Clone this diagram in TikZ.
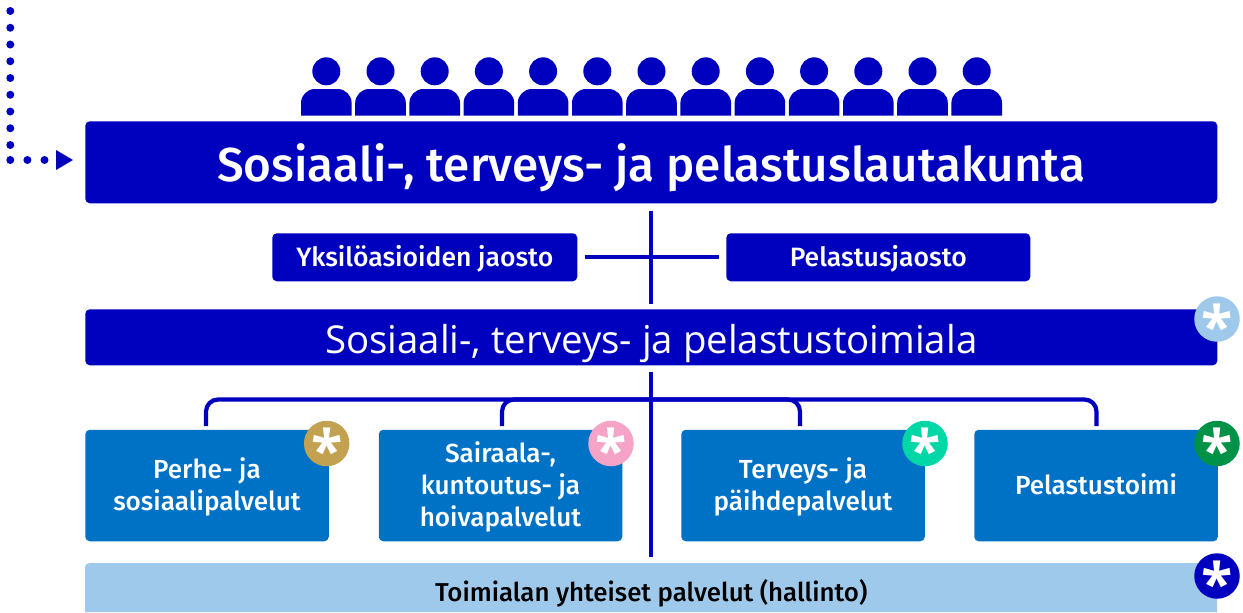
\documentclass[tikz,border=0pt]{standalone}
\usepackage{fontspec}
\usetikzlibrary{calc}
\setmainfont{Open Sans}
\newfontfamily\medfont{Fira Sans Medium}
\newfontfamily\astfont{Open Sans}
\definecolor{navy}{HTML}{0000BF}
\definecolor{coat}{HTML}{0072C6}
\definecolor{fog}{HTML}{9FC9EB}
\definecolor{gold}{HTML}{C2A251}
\definecolor{pinkk}{HTML}{F5A3C7}
\definecolor{copper}{HTML}{00D7A7}
\definecolor{tram}{HTML}{009246}
\newlength{\px}\setlength{\px}{0.75pt}
\tikzset{
 x=0.75pt,y=-0.75pt,
 barbox/.style={fill=navy,text=white,rounded corners=4.5\px,inner sep=0pt,align=center,anchor=north west},
 svcbox/.style={fill=coat,text=white,rounded corners=4.5\px,inner sep=0pt,align=center,anchor=north west,minimum width=243.5\px,minimum height=111.5\px,font=\medfont\fontsize{19.6}{24}\selectfont},
 badge/.style={circle,minimum size=45.5\px,inner sep=0pt,text=white,font=\astfont\bfseries\fontsize{43}{43}\selectfont},
 conn/.style={draw=navy,line width=4.2\px},
 dotline/.style={navy,line width=8\px,line cap=round},
}
\newcommand{\astk}{\raisebox{-28\px}[0pt][0pt]{*}}
\newcommand{\down}[2]{\raisebox{-#1\px}[0pt][0pt]{#2}}
\newcommand{\lines}[1]{\raisebox{-9.5\px}[0pt][0pt]{\begin{tabular}{@{}c@{}}#1\end{tabular}}}
\begin{document}
\begin{tikzpicture}
\useasboundingbox (0,0) rectangle (1243,612);
% dotted feedback line
\coordinate (dotA) at (10.3,11);
\coordinate (dotB) at (10.3,145.5);
\coordinate (dotC) at (10.3,160);
\coordinate (dotD) at (44.8,160);
\draw[dotline,dash pattern=on 0pt off 16.75\px] (dotA) -- (dotB);
\draw[dotline,dash pattern=on 0pt off 17.1\px] (dotC) -- (dotD);
\fill[navy] (56,150) -- (73,160) -- (56,170) -- cycle;
% people
\foreach \i in {0,...,12}{
 \pgfmathsetmacro{\cx}{326.3+54.2*\i}
 \fill[navy] (\cx,71.3) circle[radius=14];
 \fill[navy] (\cx-25.3,115.7) [rounded corners=14\px] -- (\cx-25.3,89) -- (\cx+25.3,89) [sharp corners] -- (\cx+25.3,115.7) -- cycle;
}
% bars
\node[barbox,minimum width=1132\px,minimum height=82\px,font=\medfont\fontsize{35.7}{40}\selectfont] (lauta) at (85,121) {\down{19.5}{Sosiaali-, terveys- ja pelastuslautakunta}};
\node[barbox,minimum width=305\px,minimum height=48\px,font=\medfont\fontsize{19.9}{22}\selectfont] (yks) at (272,233) {\down{9.5}{Yksilöasioiden jaosto}};
\node[barbox,minimum width=304\px,minimum height=48\px,font=\medfont\fontsize{19.9}{22}\selectfont] (pel) at (726,233) {\down{9.5}{Pelastusjaosto}};
\node[barbox,minimum width=1132\px,minimum height=56\px,font=\fontsize{28.8}{32}\selectfont] (toimi) at (85,309) {\down{16}{Sosiaali-, terveys- ja pelastustoimiala}};
\node[svcbox] (s1) at (85,429.5) {\lines{Perhe- ja\\sosiaalipalvelut}};
\node[svcbox] (s2) at (378.5,429.5) {\lines{Sairaala-,\\kuntoutus- ja\\hoivapalvelut}};
\node[svcbox] (s3) at (681,429.5) {\lines{Terveys- ja\\päihdepalvelut}};
\node[svcbox] (s4) at (974,429.5) {\lines{Pelastustoimi}};
\fill[fog] (85,612) [rounded corners=4.5\px] -- (85,563) -- (1217,563) [sharp corners] -- (1217,612) -- cycle;
\node[text=black,inner sep=0pt,anchor=north west,minimum width=1132\px,minimum height=49\px,font=\medfont\fontsize{19.4}{22}\selectfont] (hall) at (85,563) {\down{13.5}{Toimialan yhteiset palvelut (hallinto)}};
% connectors
\draw[conn,shorten <=7\px,shorten >=5\px] (lauta.south) -- (toimi.north);
\draw[conn,shorten <=7\px,shorten >=7\px] (yks.east) -- (pel.west);
\draw[conn,shorten <=6\px,shorten >=6\px] (toimi.south) -- (hall.north);
\coordinate (b1) at (206,426);
\coordinate (b2) at (502,426);
\coordinate (b3) at (800,426);
\coordinate (b4) at (1096.5,426);
\draw[conn,rounded corners=12\px] (b1) -- ++(0,-26.5) -- ($(b4)+(0,-26.5)$) -- (b4);
\draw[conn,rounded corners=12\px] (b2) -- ++(0,-26.5) -- ($(b3)+(0,-26.5)$) -- (b3);
% badges
\node[badge,fill=gold] (g1) at (326.7,443.5) {\astk};
\node[badge,fill=pinkk] (g2) at (611,443.5) {\astk};
\node[badge,fill=copper] (g3) at (925,443.5) {\astk};
\node[badge,fill=tram] (g4) at (1217,443.5) {\astk};
\node[badge,fill=fog] (g5) at (1217,319) {\astk};
\node[badge,fill=navy] (g6) at (1217,576) {\astk};
\end{tikzpicture}
\end{document}
